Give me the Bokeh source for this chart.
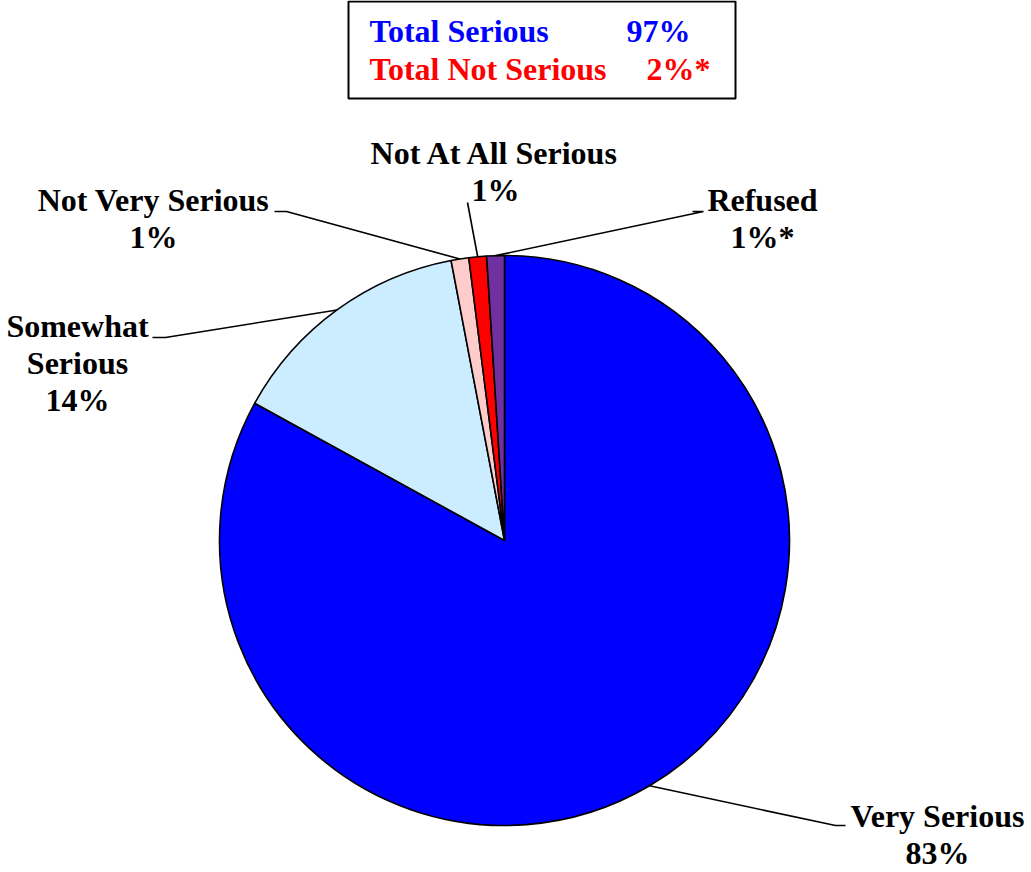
import math
from bokeh.plotting import figure
from bokeh.models import Range1d
from bokeh.core.properties import value
from bokeh.embed import file_html
from bokeh.resources import INLINE

# ---- data ----
categories = ["Very Serious", "Somewhat Serious", "Not Very Serious", "Not At All Serious", "Refused"]
percents = [83, 14, 1, 1, 1]
value_labels = ["83%", "14%", "1%", "1%", "1%*"]
colors = ["#0000FF", "#CCECFF", "#FFCCCC", "#FF0000", "#7030A0"]
summary_names = ["Total Serious", "Total Not Serious"]
summary_values = ["97%", "2%*"]
summary_colors = ["#0000FF", "#FF0000"]

W, H = 1031, 872
FONT = value("Liberation Serif")
FS = "32px"
DY = -12.5  # text baseline correction

def Y(py):
    return H - py

p = figure(width=W, height=H, output_backend="svg", toolbar_location=None,
           x_range=Range1d(0, W), y_range=Range1d(0, H),
           x_axis_location=None, y_axis_location=None, min_border=0,
           outline_line_color=None, background_fill_color="white",
           border_fill_color="white")
p.grid.visible = False

cx, cy, R = 504, Y(540), 285
total = float(sum(percents))
cum = 0.0
mids = []
starts, ends = [], []
for v in percents:
    c0 = cum / total
    cum += v
    c1 = cum / total
    starts.append(math.pi / 2 - 2 * math.pi * c0)
    ends.append(math.pi / 2 - 2 * math.pi * c1)
    mids.append(math.pi / 2 - 2 * math.pi * (c0 + c1) / 2)

p.wedge(x=[cx] * len(percents), y=[cy] * len(percents), radius=R,
        start_angle=starts, end_angle=ends, direction="clock",
        fill_color=colors, line_color="black", line_width=1.6)

def edge(i):
    a = mids[i]
    return cx + R * math.cos(a), cy + R * math.sin(a)

# leader lines: (elbow, end) in pixel coords
leaders = {
    0: [(835, 825), (845, 825)],
    1: [(165, 337), (152, 337)],
    2: [(286, 211), (274, 211)],
    3: [(467, 202)],
    4: [(703, 211), (692, 211)],
}
for i, pts in leaders.items():
    ex, ey = edge(i)
    xs = [ex] + [q[0] for q in pts]
    ys = [ey] + [Y(q[1]) for q in pts]
    p.line(xs, ys, line_color="black", line_width=1.6)

# category labels: (center x, [lines], [baselines]) in pixel coords
label_pos = {
    0: (937, ["Very Serious"], [828]),
    1: (77, ["Somewhat", "Serious"], [338, 375]),
    2: (153, ["Not Very Serious"], [212]),
    3: (495, ["Not At All Serious"], [165]),
    4: (762, ["Refused"], [212]),
}
for i, (lx, lines, bys) in label_pos.items():
    txt = lines + [value_labels[i]]
    ys = bys + [bys[-1] + 37]
    p.text(x=[lx] * len(txt), y=[Y(b + DY) for b in ys], text=txt,
           text_font=FONT, text_font_size=FS, text_font_style="bold",
           text_color="black", text_align="center", text_baseline="alphabetic")

# summary box
p.quad(left=[348], right=[735], top=[Y(1)], bottom=[Y(98)],
       fill_color="white", line_color="black", line_width=2)
p.text(x=[369, 369], y=[Y(43 + DY), Y(81 + DY)], text=summary_names, text_color=summary_colors,
       text_font=FONT, text_font_size=FS, text_font_style="bold",
       text_align="left", text_baseline="alphabetic")
p.text(x=[690, 710], y=[Y(43 + DY), Y(81 + DY)], text=summary_values, text_color=summary_colors,
       text_font=FONT, text_font_size=FS, text_font_style="bold",
       text_align="right", text_baseline="alphabetic")

open("out.html", "w").write(file_html(p, INLINE))
